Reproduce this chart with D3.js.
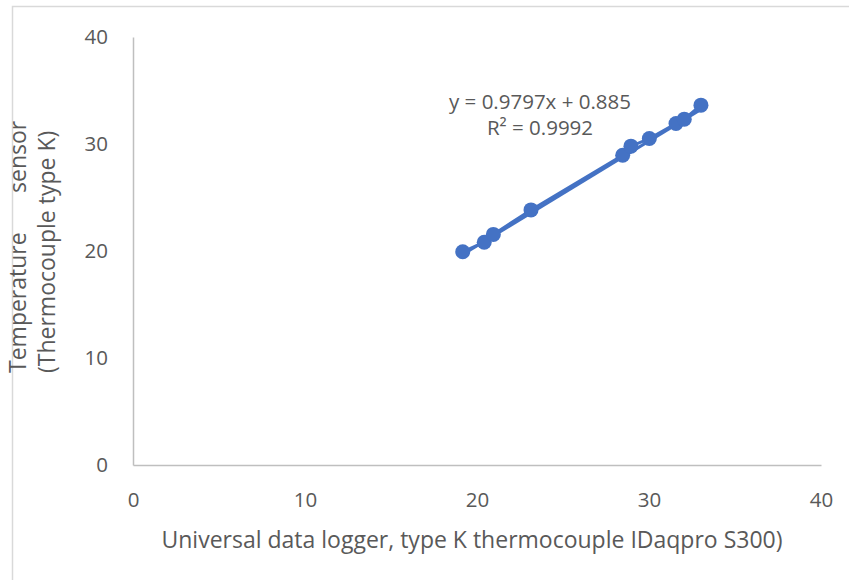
<!DOCTYPE html>
<html>
<head>
<meta charset="utf-8">
<script src="https://cdn.jsdelivr.net/npm/d3@7"></script>
<style>
  body { margin: 0; background: #fff; }
  svg text { font-family: "Open Sans", sans-serif; fill: #595959; }
</style>
</head>
<body>
<div id="chart"></div>
<script>
const loggerTemps = [19.17, 20.42, 20.95, 23.14, 28.47, 28.95, 30.02, 31.57, 32.05, 33.02];
const sensorTemps = [19.93, 20.82, 21.55, 23.84, 28.95, 29.8, 30.51, 31.92, 32.32, 33.63];
const xTicks = [0, 10, 20, 30, 40];
const yTicks = [0, 10, 20, 30, 40];
const trendSlope = 0.9797;
const trendIntercept = 0.885;
const rSquared = 0.9992;

const points = loggerTemps.map((x, i) => ({ x: x, y: sensorTemps[i] }));

const width = 849;
const height = 580;
const svg = d3.select('#chart')
  .append('svg')
    .attr('width', width)
    .attr('height', height);

// chart frame, only left and top edges show
svg.append('rect')
    .attr('x', 12.5)
    .attr('y', 6.5)
    .attr('width', 900)
    .attr('height', 700)
    .attr('fill', 'none')
    .attr('stroke', '#d9d9d9')
    .attr('stroke-width', 1.5);

const x = d3.scaleLinear().domain([0, 40]).range([133, 821]);
const y = d3.scaleLinear().domain([0, 40]).range([465, 37]);

const xAxis = svg.append('g')
    .attr('transform', `translate(0,${y(0)})`)
    .call(d3.axisBottom(x).tickValues(xTicks).tickSize(0).tickPadding(27));
xAxis.select('.domain').attr('stroke', '#bfbfbf').attr('stroke-width', 1.5);
xAxis.selectAll('text').attr('font-size', 20.5).attr('fill', '#595959');

const yAxis = svg.append('g')
    .attr('transform', `translate(${x(0)},0)`)
    .call(d3.axisLeft(y).tickValues(yTicks).tickSize(0).tickPadding(25));
yAxis.select('.domain').attr('stroke', '#bfbfbf').attr('stroke-width', 1.5);
yAxis.selectAll('text').attr('font-size', 20.5).attr('fill', '#595959');

const blue = '#4472c4';

// linear trendline over the data range
const xExt = d3.extent(loggerTemps);
svg.append('line')
    .attr('x1', x(xExt[0]))
    .attr('y1', y(trendSlope * xExt[0] + trendIntercept))
    .attr('x2', x(xExt[1]))
    .attr('y2', y(trendSlope * xExt[1] + trendIntercept))
    .attr('stroke', blue)
    .attr('stroke-width', 3);

svg.append('path')
    .datum(points)
    .attr('d', d3.line().x(d => x(d.x)).y(d => y(d.y)))
    .attr('fill', 'none')
    .attr('stroke', blue)
    .attr('stroke-width', 3);

svg.selectAll('.pt')
  .data(points)
  .join('circle')
    .attr('class', 'pt')
    .attr('cx', d => x(d.x))
    .attr('cy', d => y(d.y))
    .attr('r', 7.5)
    .attr('fill', blue);

// trendline label
const eq = svg.append('text')
    .attr('text-anchor', 'middle')
    .attr('font-size', 20.5);
eq.append('tspan')
    .attr('x', 540)
    .attr('y', 109)
    .text(`y = ${trendSlope}x + ${trendIntercept}`);
eq.append('tspan')
    .attr('x', 540)
    .attr('y', 135)
    .text(`R² = ${rSquared}`);

svg.append('text')
    .attr('x', 472)
    .attr('y', 548)
    .attr('text-anchor', 'middle')
    .attr('font-size', 23)
    .text('Universal data logger, type K thermocouple IDaqpro S300)');

const yTitle = svg.append('g')
    .attr('transform', 'translate(0,373) rotate(-90)');
yTitle.append('text')
    .attr('x', 0)
    .attr('y', 26)
    .attr('font-size', 23)
    .text('Temperature');
yTitle.append('text')
    .attr('x', 180)
    .attr('y', 26)
    .attr('font-size', 23)
    .text('sensor');
yTitle.append('text')
    .attr('x', 0)
    .attr('y', 55)
    .attr('font-size', 23)
    .text('(Thermocouple type K)');
</script>
</body>
</html>
